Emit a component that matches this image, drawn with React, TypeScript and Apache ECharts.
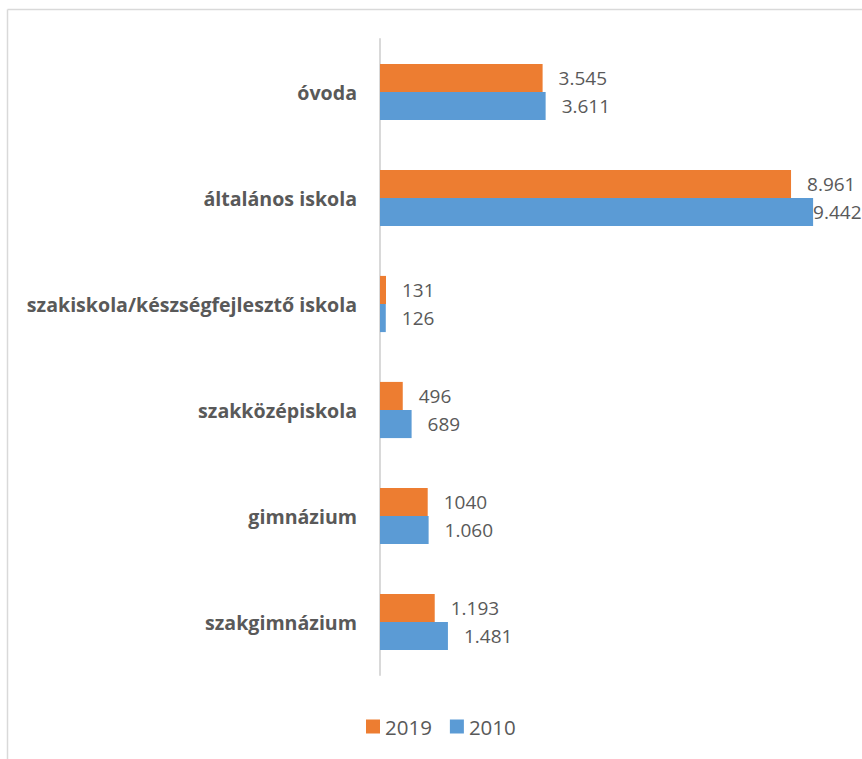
import React, { useEffect, useRef } from "react";
import * as echarts from "echarts";

const categories = [
  "óvoda",
  "általános iskola",
  "szakiskola/készségfejlesztő iskola",
  "szakközépiskola",
  "gimnázium",
  "szakgimnázium",
];
const values2019 = [3545, 8961, 131, 496, 1040, 1193];
const values2010 = [3611, 9442, 126, 689, 1060, 1481];
const labels2019 = ["3.545", "8.961", "131", "496", "1040", "1.193"];
const labels2010 = ["3.611", "9.442", "126", "689", "1.060", "1.481"];
const seriesNames = ["2019", "2010"];
const colors = ["#ED7D31", "#5B9BD5"];

const FONT = "'Open Sans', 'Noto Sans', sans-serif";
const TEXT = "#595959";

export default function App() {
  const ref = useRef<HTMLDivElement>(null);
  useEffect(() => {
    if (!ref.current) return;
    const chart = echarts.init(ref.current, null, { renderer: "svg" });
    const W = 862;
    const H = 759;
    const gridLeft = 380;
    const gridWidth = 458.7;
    const gridTop = 39;
    const gridHeight = 636;

    const makeData = (vals: number[], labs: string[], clampLast: boolean) =>
      vals.map((v, i) => {
        const item: any = { value: v, label: { formatter: labs[i] } };
        if (clampLast && v > 9000) item.label.distance = 0;
        return item;
      });

    const labelStyle = {
      show: true,
      position: "right",
      distance: 16,
      fontFamily: FONT,
      fontSize: 19,
      color: TEXT,
    };

    chart.setOption({
      animation: false,
      backgroundColor: "#ffffff",
      textStyle: { fontFamily: FONT },
      legend: {
        top: 711,
        left: 361,
        itemWidth: 14,
        itemHeight: 14,
        itemGap: 18,
        icon: "rect",
        data: seriesNames,
        textStyle: { fontFamily: FONT, fontSize: 20.5, color: TEXT },
      },
      grid: {
        left: gridLeft,
        top: gridTop,
        width: gridWidth,
        height: gridHeight,
        containLabel: false,
      },
      xAxis: {
        type: "value",
        min: 0,
        max: 10000,
        show: false,
        splitLine: { show: false },
      },
      yAxis: {
        type: "category",
        inverse: true,
        data: categories,
        axisLine: { show: true, lineStyle: { color: "#d9d9d9", width: 2 } },
        axisTick: { show: false },
        axisLabel: {
          margin: 23,
          fontFamily: FONT,
          fontWeight: "bold",
          fontSize: 19.6,
          color: TEXT,
        },
      },
      series: [
        {
          name: seriesNames[0],
          type: "bar",
          data: makeData(values2019, labels2019, false),
          itemStyle: { color: colors[0] },
          barGap: "0%",
          barCategoryGap: "47%",
          label: labelStyle,
        },
        {
          name: seriesNames[1],
          type: "bar",
          data: makeData(values2010, labels2010, true),
          itemStyle: { color: colors[1] },
          barGap: "0%",
          barCategoryGap: "47%",
          label: labelStyle,
        },
      ],
      graphic: [
        {
          type: "line",
          shape: { x1: 7.5, y1: 9.5, x2: W, y2: 9.5 },
          style: { stroke: "#d9d9d9", lineWidth: 1.5 },
          silent: true,
        },
        {
          type: "line",
          shape: { x1: 7.5, y1: 9.5, x2: 7.5, y2: H },
          style: { stroke: "#d9d9d9", lineWidth: 1.5 },
          silent: true,
        },
      ],
    });
    return () => chart.dispose();
  }, []);
  return (
    <div
      ref={ref}
      style={{ position: "absolute", left: 0, top: 0, width: 862, height: 759 }}
    />
  );
}
